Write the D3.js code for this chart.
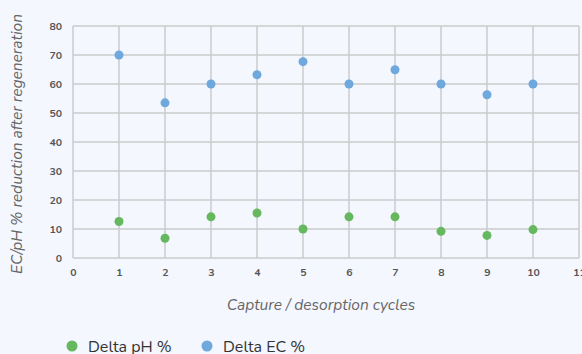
<!DOCTYPE html>
<html><head><meta charset="utf-8">
<script src="https://cdn.jsdelivr.net/npm/d3@7"></script>
<style>
html,body{margin:0;padding:0;background:#f4f7fe;}
svg{display:block;}
</style></head>
<body>
<svg id="c" width="582" height="354"></svg>
<script>
const cycles = [1,2,3,4,5,6,7,8,9,10];
const deltaPH = [12.6, 6.8, 14.2, 15.5, 10.0, 14.2, 14.2, 9.2, 7.8, 9.8];
const deltaEC = [70, 53.5, 60, 63.2, 67.7, 60, 64.9, 60, 56.3, 60];
const xTicks = [0,1,2,3,4,5,6,7,8,9,10,11];
const yTicks = [0,10,20,30,40,50,60,70,80];
const seriesNames = ["Delta pH %", "Delta EC %"];
const colors = ["#66b85f", "#6fa8dc"];

const svg = d3.select("#c");
const font = "Nunito, 'Noto Sans', Lato, sans-serif";
const x = d3.scaleLinear().domain([0,11]).range([73,579]);
const y = d3.scaleLinear().domain([0,80]).range([258,26]);

const grid = svg.append("g");
grid.selectAll("line.h").data(yTicks).join("line")
  .attr("x1", x(0)).attr("x2", x(11))
  .attr("y1", d=>y(d)).attr("y2", d=>y(d))
  .attr("stroke", "#cbcbcb").attr("stroke-width", 1.5);
grid.selectAll("line.v").data(xTicks).join("line")
  .attr("y1", y(0)).attr("y2", y(80))
  .attr("x1", d=>x(d)).attr("x2", d=>x(d))
  .attr("stroke", "#cbcbcb").attr("stroke-width", 1.5);

const yAxis = d3.axisLeft(y).tickValues(yTicks).tickSize(0).tickPadding(11);
const gy = svg.append("g").attr("transform", `translate(${x(0)},0)`).call(yAxis);
gy.select(".domain").remove();
gy.selectAll("text").attr("font-family", font).attr("font-size", 10.5).attr("font-weight", "bold").attr("fill", "#555");

const xAxis = d3.axisBottom(x).tickValues(xTicks).tickSize(0).tickPadding(11);
const gx = svg.append("g").attr("transform", `translate(0,${y(0)})`).call(xAxis);
gx.select(".domain").remove();
gx.selectAll("text").attr("font-family", font).attr("font-size", 10.5).attr("font-weight", "bold").attr("fill", "#555");

const all = [deltaPH, deltaEC];
all.forEach((vals, i) => {
  svg.append("g").selectAll("circle").data(vals).join("circle")
    .attr("cx", (d,j)=>x(cycles[j])).attr("cy", d=>y(d))
    .attr("r", 4.5).attr("fill", colors[i]);
});

svg.append("text").attr("x", 321).attr("y", 310).attr("text-anchor","middle")
  .attr("font-family", font).attr("font-style","italic").attr("font-size", 15.5).attr("fill","#666")
  .text("Capture / desorption cycles");
svg.append("text").attr("transform","translate(22,144) rotate(-90)").attr("text-anchor","middle")
  .attr("font-family", font).attr("font-style","italic").attr("font-size", 15.5).attr("fill","#666")
  .text("EC/pH % reduction after regeneration");

const legX = [72, 207];
seriesNames.forEach((n,i)=>{
  svg.append("circle").attr("cx", legX[i]).attr("cy", 346).attr("r", 5.5).attr("fill", colors[i]);
  svg.append("text").attr("x", legX[i]+16).attr("y", 352)
    .attr("font-family", font).attr("font-size", 16).attr("fill","#333").text(n);
});
</script>
</body></html>
